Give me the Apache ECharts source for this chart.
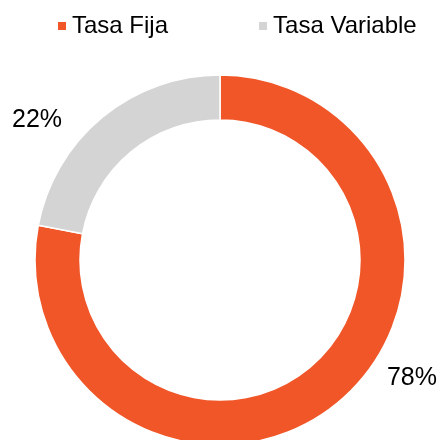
<!DOCTYPE html>
<html>
<head>
<meta charset="utf-8">
<script src="https://cdn.jsdelivr.net/npm/echarts@6/dist/echarts.min.js"></script>
<style>
html,body{margin:0;padding:0;background:#fff;}
#chart{width:440px;height:440px;}
</style>
</head>
<body>
<div id="chart"></div>
<script>
var categories = ["Tasa Fija", "Tasa Variable"];
var values = [78, 22];
var colors = ["#F05627", "#D4D4D4"];
var labelShift = [[49, -24], [-40, 3]];

var chart = echarts.init(document.getElementById('chart'), null, {renderer: 'canvas'});
chart.setOption({
  animation: false,
  textStyle: {fontFamily: 'Liberation Sans, Arial, sans-serif'},
  legend: {
    data: categories,
    left: 51,
    top: 9,
    icon: 'rect',
    itemWidth: 10,
    itemHeight: 10,
    itemGap: 89,
    textStyle: {fontSize: 24, color: '#000', fontFamily: 'Liberation Sans, Arial, sans-serif'}
  },
  series: [{
    type: 'pie',
    center: [220, 260],
    radius: [140, 185],
    startAngle: 90,
    clockwise: true,
    avoidLabelOverlap: false,
    itemStyle: {borderColor: '#fff', borderWidth: 1.5},
    label: {
      show: true,
      position: 'outside',
      formatter: '{d}%',
      fontSize: 25,
      color: '#000',
      distanceToLabelLine: 0,
      fontFamily: 'Liberation Sans, Arial, sans-serif'
    },
    labelLine: {show: false, length: 0, length2: 0},
    labelLayout: function (p) {
      return {dx: labelShift[p.dataIndex][0], dy: labelShift[p.dataIndex][1]};
    },
    emphasis: {disabled: true},
    data: categories.map(function (c, i) {
      return {name: c, value: values[i], itemStyle: {color: colors[i]}};
    })
  }]
});
</script>
</body>
</html>
